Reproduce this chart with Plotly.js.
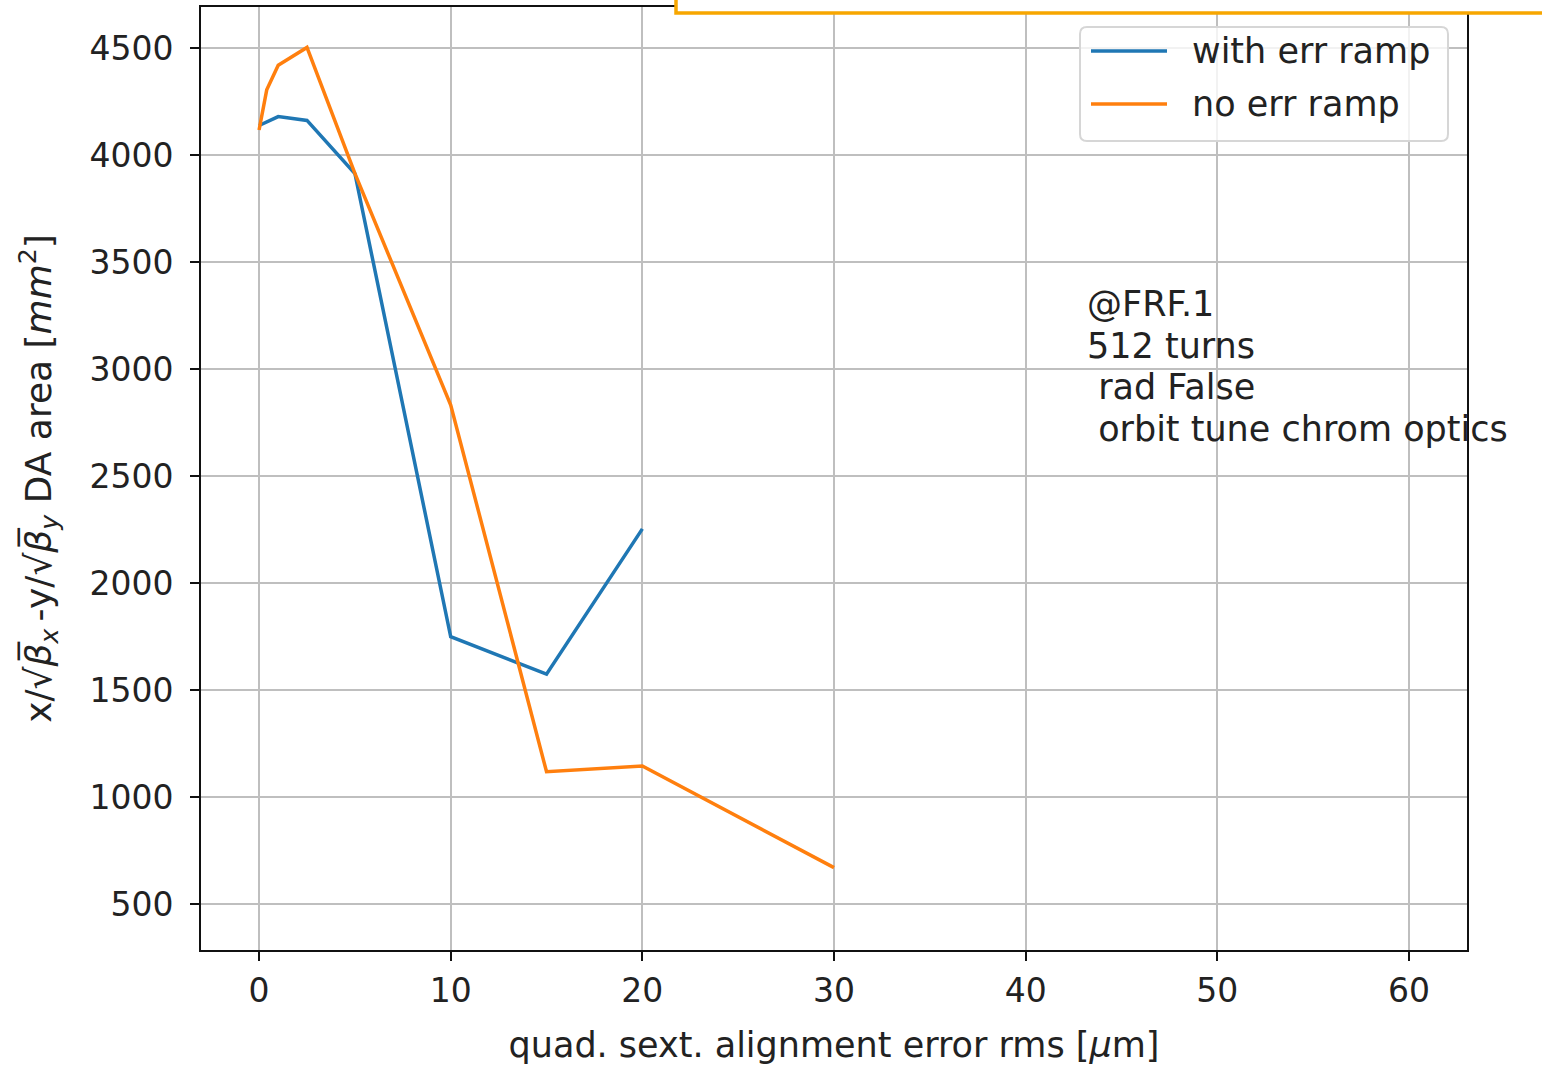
<!DOCTYPE html>
<html>
<head>
<meta charset="utf-8">
<script src="https://cdn.plot.ly/plotly-3.0.1.min.js"></script>
<style>
  html, body { margin: 0; padding: 0; background: #ffffff; }
  #chart { width: 1542px; height: 1065px; }
</style>
</head>
<body>
<div id="chart"></div>
<script>
// ---- data ----
const seriesNames = ["with err ramp", "no err ramp"];
const seriesColors = ["#1f77b4", "#ff7f0e"];

const xWithRamp = [0, 1, 2.5, 5, 10, 15, 20];
const yWithRamp = [4138, 4180, 4162, 3914, 1749, 1574, 2253];

const xNoRamp = [0, 0.4, 1, 2.5, 5, 10, 15, 20, 30];
const yNoRamp = [4117, 4305, 4420, 4503, 3914, 2832, 1118, 1145, 670];

const xTickVals = [0, 10, 20, 30, 40, 50, 60];
const yTickVals = [500, 1000, 1500, 2000, 2500, 3000, 3500, 4000, 4500];

const infoLines = ["@FRF.1", "512 turns", "\u00a0rad False", "\u00a0orbit tune chrom optics"];

const xTitle = "quad. sext. alignment error rms [<i>\u03bc</i>m]";
const yTitle = "x/\u221a<i>\u03b2\u0305<sub>x</sub></i>\u2009-y/\u221a<i>\u03b2\u0305<sub>y</sub></i> DA area [<i>mm</i><sup>2</sup>]";

// ---- layout geometry (pixels) ----
const W = 1542, H = 1065;
const plotL = 201, plotR = 1467, plotT = 7, plotB = 950;
const px = v => (v - plotL) / (plotR - plotL);
const py = v => (plotB - v) / (plotB - plotT);

const FONT = "DejaVu Sans, Liberation Sans, sans-serif";
const FS = 33;      // tick labels
const FT = 35;      // titles, legend, text

const traces = [
  { x: xWithRamp, y: yWithRamp, name: seriesNames[0], type: "scatter", mode: "lines",
    line: { color: seriesColors[0], width: 3.5 }, showlegend: false },
  { x: xNoRamp, y: yNoRamp, name: seriesNames[1], type: "scatter", mode: "lines",
    line: { color: seriesColors[1], width: 3.5 }, showlegend: false }
];

// rounded legend box path in paper coords
function roundedRect(x0, y0, x1, y1, r) {
  const X = v => px(v).toFixed(5), Y = v => py(v).toFixed(5);
  return `M${X(x0 + r)},${Y(y0)} L${X(x1 - r)},${Y(y0)} Q${X(x1)},${Y(y0)} ${X(x1)},${Y(y0 + r)} ` +
         `L${X(x1)},${Y(y1 - r)} Q${X(x1)},${Y(y1)} ${X(x1 - r)},${Y(y1)} ` +
         `L${X(x0 + r)},${Y(y1)} Q${X(x0)},${Y(y1)} ${X(x0)},${Y(y1 - r)} ` +
         `L${X(x0)},${Y(y0 + r)} Q${X(x0)},${Y(y0)} ${X(x0 + r)},${Y(y0)} Z`;
}

const legBox = { x0: 1080, y0: 27, x1: 1448, y1: 141 };
const legRows = [51, 104];

const shapes = [
  { type: "path", xref: "paper", yref: "paper", path: roundedRect(legBox.x0, legBox.y0, legBox.x1, legBox.y1, 7),
    fillcolor: "rgba(255,255,255,0.8)", line: { color: "#d6d6d6", width: 2 }, layer: "above" }
];
legRows.forEach((r, i) => {
  shapes.push({ type: "line", xref: "paper", yref: "paper", x0: px(1091), x1: px(1167), y0: py(r), y1: py(r),
    line: { color: seriesColors[i], width: 3.5 }, layer: "above" });
});
// orange framed box at the top edge of the picture
shapes.push({ type: "rect", xref: "paper", yref: "paper", x0: px(676), x1: px(1560), y0: py(13), y1: py(-10),
  fillcolor: "#ffffff", line: { color: "#f7a600", width: 3.5 }, layer: "above" });

const annotations = legRows.map((r, i) => ({
  xref: "paper", yref: "paper", x: px(1190), y: py(r), xanchor: "left", yanchor: "middle",
  text: seriesNames[i], showarrow: false, font: { family: FONT, size: FT, color: "#222" }
}));
const infoRows = [304, 345.5, 387, 428.5];
infoLines.forEach((t, i) => {
  annotations.push({
    xref: "x", yref: "paper", x: 43.1, y: py(infoRows[i]), xanchor: "left", yanchor: "middle", align: "left",
    text: t, showarrow: false, font: { family: FONT, size: FT, color: "#222" }
  });
});

const layout = {
  width: W, height: H,
  margin: { l: plotL, r: W - plotR, t: plotT, b: H - plotB, pad: 0 },
  paper_bgcolor: "#ffffff", plot_bgcolor: "#ffffff",
  font: { family: FONT, size: FS, color: "#222" },
  showlegend: false,
  xaxis: {
    range: [-3.03, 63.03], tickvals: xTickVals, ticktext: xTickVals.map(String),
    showgrid: true, gridcolor: "#bfbfbf", gridwidth: 2.2, zeroline: false,
    showline: true, linecolor: "#111", linewidth: 2, mirror: true,
    ticks: "outside", ticklen: 9, tickwidth: 2, tickcolor: "#111",
    ticklabelstandoff: 1,
    tickfont: { family: FONT, size: FS, color: "#222" },
    title: { text: xTitle, font: { family: FONT, size: FT, color: "#222" }, standoff: 24 },
    automargin: false
  },
  yaxis: {
    range: [285, 4692], tickvals: yTickVals, ticktext: yTickVals.map(String),
    showgrid: true, gridcolor: "#bfbfbf", gridwidth: 2.2, zeroline: false,
    showline: true, linecolor: "#111", linewidth: 2, mirror: true,
    ticks: "outside", ticklen: 9, tickwidth: 2, tickcolor: "#111",
    ticklabelstandoff: 10,
    tickfont: { family: FONT, size: FS, color: "#222" },
    title: { text: yTitle, font: { family: FONT, size: 36, color: "#222" }, standoff: 27 },
    automargin: false
  },
  shapes: shapes,
  annotations: annotations
};

Plotly.newPlot("chart", traces, layout, { displayModeBar: false, staticPlot: true });
</script>
</body>
</html>
